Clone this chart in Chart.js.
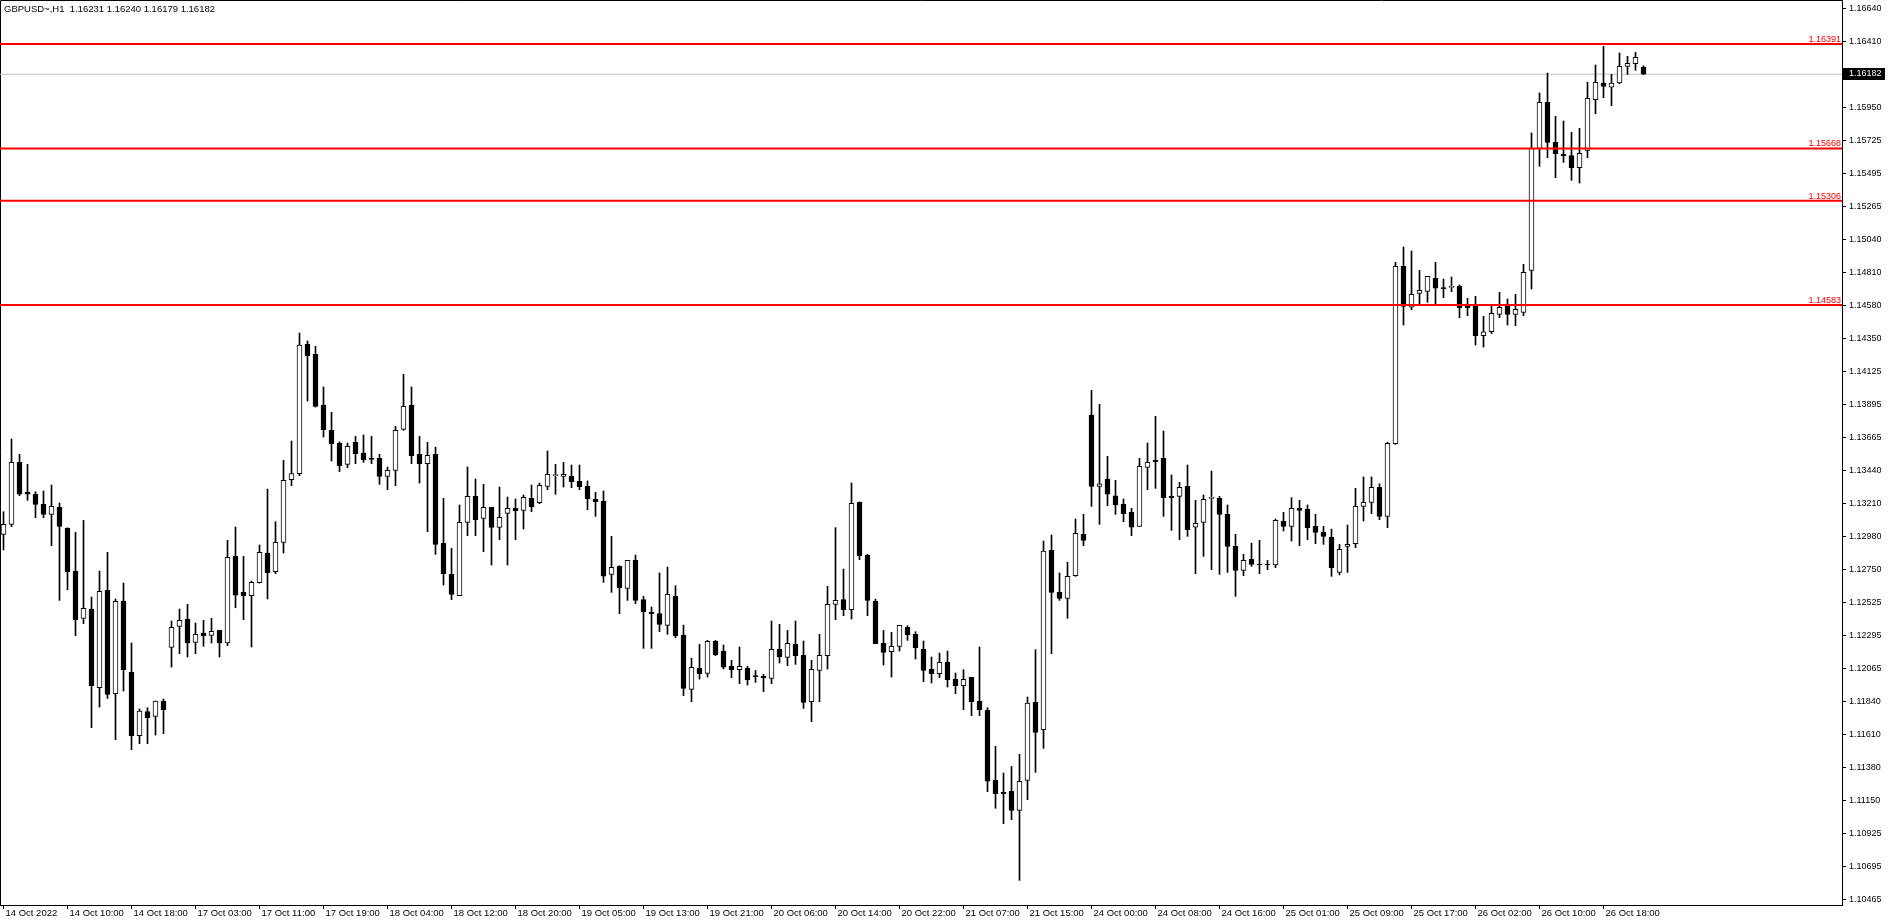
<!DOCTYPE html>
<html>
<head>
<meta charset="utf-8">
<title>GBPUSD~,H1</title>
<script src="https://cdn.jsdelivr.net/npm/chart.js@4.4.0/dist/chart.umd.min.js"></script>
<style>
    html, body { margin: 0; padding: 0; background: #fff; overflow: hidden; }
    canvas { display: block; }
</style>
</head>
<body>
<canvas id="myChart" width="1888" height="923"></canvas>
<script>
const symbol = 'GBPUSD~,H1'

// hourly bars, 14 Oct 2022 .. 26 Oct 2022
const opens = [
    1.12994, 1.13064, 1.13493, 1.13285, 1.13272, 1.13202, 1.13133, 1.13181, 1.13036, 1.12740,
    1.12413, 1.12477, 1.11932, 1.12607, 1.11891, 1.12533, 1.12039, 1.11600, 1.11766, 1.11734,
    1.11840, 1.12212, 1.12357, 1.12408, 1.12246, 1.12311, 1.12295, 1.12329, 1.12242, 1.12842,
    1.12593, 1.12570, 1.12660, 1.12865, 1.12736, 1.12939, 1.13373, 1.13415, 1.14311, 1.14241,
    1.13890, 1.13715, 1.13627, 1.13479, 1.13632, 1.13558, 1.13523, 1.13521, 1.13396, 1.13438,
    1.13722, 1.13888, 1.13549, 1.13484, 1.13549, 1.12932, 1.12717, 1.12570, 1.13078, 1.13258,
    1.13105, 1.13181, 1.13043, 1.13140, 1.13174, 1.13161, 1.13244, 1.13214, 1.13327, 1.13401,
    1.13396, 1.13396, 1.13362, 1.13327, 1.13237, 1.13223, 1.12717, 1.12773, 1.12620, 1.12814,
    1.12542, 1.12454, 1.12445, 1.12364, 1.12565, 1.12297, 1.11921, 1.12066, 1.12032, 1.12253,
    1.12186, 1.12080, 1.12057, 1.12066, 1.12011, 1.12011, 1.11997, 1.12198, 1.12142, 1.12232,
    1.12156, 1.11835, 1.12052, 1.12154, 1.12510, 1.12542, 1.12473, 1.13216, 1.12849, 1.12530,
    1.12239, 1.12182, 1.12219, 1.12350, 1.12302, 1.12198, 1.12059, 1.12029, 1.12110, 1.11990,
    1.11946, 1.12004, 1.11838, 1.11778, 1.11290, 1.11207, 1.11214, 1.11083, 1.11290, 1.11831,
    1.11641, 1.12884, 1.12593, 1.12551, 1.12708, 1.12995, 1.13821, 1.13327, 1.13378, 1.13262,
    1.13202, 1.13147, 1.13050, 1.13459, 1.13507, 1.13521, 1.13258, 1.13258, 1.13327, 1.13045,
    1.13078, 1.13244, 1.13244, 1.13133, 1.12911, 1.12745, 1.12821, 1.12782, 1.12789, 1.12782,
    1.13085, 1.13050, 1.13175, 1.13168, 1.13050, 1.13008, 1.12974, 1.12731, 1.12911, 1.12930,
    1.13188, 1.13216, 1.13320, 1.13119, 1.13623, 1.14851, 1.14569, 1.14664, 1.14678, 1.14768,
    1.14699, 1.14705, 1.14712, 1.14574, 1.14574, 1.14371, 1.14398, 1.14518, 1.14576, 1.14518,
    1.14532, 1.14823, 1.15668, 1.15987, 1.15710, 1.15627, 1.15618, 1.15534, 1.15654, 1.16005,
    1.16121, 1.16093, 1.16121, 1.16236, 1.16255, 1.16231
]
const highs = [
    1.13151, 1.13655, 1.13549, 1.13479, 1.13290, 1.13295, 1.13336, 1.13212, 1.13040, 1.13008,
    1.13091, 1.12560, 1.12740, 1.12870, 1.12547, 1.12657, 1.12242, 1.11785, 1.11794, 1.11840,
    1.11854, 1.12394, 1.12477, 1.12510, 1.12380, 1.12399, 1.12413, 1.12329, 1.12953, 1.13045,
    1.12842, 1.12671, 1.12921, 1.13308, 1.13082, 1.13507, 1.13641, 1.14389, 1.14334, 1.14297,
    1.14015, 1.13840, 1.13635, 1.13627, 1.13673, 1.13683, 1.13673, 1.13549, 1.13461, 1.13743,
    1.14103, 1.14015, 1.13673, 1.13632, 1.13599, 1.13244, 1.12897, 1.13198, 1.13461, 1.13378,
    1.13341, 1.13181, 1.13322, 1.13253, 1.13239, 1.13267, 1.13336, 1.13350, 1.13572, 1.13479,
    1.13493, 1.13475, 1.13475, 1.13364, 1.13285, 1.13295, 1.12981, 1.12777, 1.12814, 1.12851,
    1.12565, 1.12491, 1.12727, 1.12768, 1.12639, 1.12366, 1.12136, 1.12232, 1.12260, 1.12260,
    1.12228, 1.12122, 1.12214, 1.12080, 1.12052, 1.12025, 1.12394, 1.12371, 1.12329, 1.12394,
    1.12256, 1.12122, 1.12302, 1.12634, 1.13041, 1.12754, 1.13350, 1.13220, 1.12856, 1.12546,
    1.12329, 1.12316, 1.12364, 1.12362, 1.12320, 1.12256, 1.12145, 1.12172, 1.12186, 1.12034,
    1.12057, 1.12004, 1.12214, 1.11794, 1.11526, 1.11341, 1.11387, 1.11471, 1.11868, 1.12196,
    1.12948, 1.12990, 1.12727, 1.12801, 1.13101, 1.13133, 1.13992, 1.13895, 1.13535, 1.13369,
    1.13239, 1.13175, 1.13521, 1.13627, 1.13812, 1.13710, 1.13406, 1.13355, 1.13475, 1.13230,
    1.13267, 1.13433, 1.13258, 1.13198, 1.12995, 1.12856, 1.12934, 1.12953, 1.12814, 1.13101,
    1.13147, 1.13249, 1.13230, 1.13198, 1.13133, 1.13050, 1.13031, 1.12925, 1.13059, 1.13313,
    1.13392, 1.13392, 1.13345, 1.13632, 1.14879, 1.14985, 1.14957, 1.14823, 1.14782, 1.14879,
    1.14763, 1.14777, 1.14722, 1.14629, 1.14643, 1.14505, 1.14574, 1.14671, 1.14625, 1.14657,
    1.14865, 1.15775, 1.16052, 1.16190, 1.15890, 1.15858, 1.15779, 1.15807, 1.16126, 1.16246,
    1.16375, 1.16181, 1.16329, 1.16306, 1.16333, 1.16240
]
const lows = [
    1.12886, 1.13048, 1.13262, 1.13230, 1.13110, 1.13110, 1.12916, 1.12537, 1.12611, 1.12293,
    1.12376, 1.11655, 1.11798, 1.11858, 1.11572, 1.11909, 1.11503, 1.11544, 1.11544, 1.11604,
    1.11614, 1.12075, 1.12168, 1.12145, 1.12168, 1.12219, 1.12242, 1.12145, 1.12223, 1.12486,
    1.12403, 1.12214, 1.12657, 1.12547, 1.12722, 1.12865, 1.13332, 1.13401, 1.13918, 1.13876,
    1.13669, 1.13502, 1.13429, 1.13456, 1.13484, 1.13493, 1.13484, 1.13341, 1.13304, 1.13332,
    1.13715, 1.13484, 1.13350, 1.13013, 1.12856, 1.12643, 1.12542, 1.12570, 1.12985, 1.12985,
    1.12874, 1.12782, 1.12958, 1.12782, 1.12958, 1.13031, 1.13151, 1.13207, 1.13304, 1.13272,
    1.13322, 1.13318, 1.13304, 1.13165, 1.13119, 1.12662, 1.12593, 1.12445, 1.12537, 1.12514,
    1.12205, 1.12205, 1.12320, 1.12302, 1.12279, 1.11877, 1.11835, 1.11992, 1.12006, 1.12154,
    1.12062, 1.12002, 1.11960, 1.11951, 1.11969, 1.11905, 1.11960, 1.12103, 1.12085, 1.12094,
    1.11789, 1.11697, 1.11835, 1.12062, 1.12403, 1.12431, 1.12408, 1.12819, 1.12431, 1.12237,
    1.12089, 1.12006, 1.12186, 1.12260, 1.12131, 1.11974, 1.11965, 1.12002, 1.11937, 1.11891,
    1.11780, 1.11738, 1.11738, 1.11212, 1.11097, 1.10990, 1.11018, 1.10598, 1.11157, 1.11346,
    1.11512, 1.12168, 1.12537, 1.12413, 1.12704, 1.12916, 1.13188, 1.13064, 1.13193, 1.13133,
    1.13082, 1.12985, 1.13050, 1.13304, 1.13313, 1.13119, 1.13022, 1.12958, 1.12981, 1.12722,
    1.12842, 1.12750, 1.12717, 1.12731, 1.12565, 1.12708, 1.12773, 1.12722, 1.12750, 1.12764,
    1.13018, 1.12948, 1.12916, 1.12958, 1.12930, 1.12925, 1.12704, 1.12713, 1.12731, 1.12902,
    1.13087, 1.13138, 1.13096, 1.13041, 1.13618, 1.14445, 1.14551, 1.14583, 1.14602, 1.14583,
    1.14634, 1.14675, 1.14495, 1.14509, 1.14306, 1.14292, 1.14385, 1.14495, 1.14445, 1.14440,
    1.14509, 1.14694, 1.15544, 1.15604, 1.15465, 1.15571, 1.15447, 1.15428, 1.15604, 1.15908,
    1.16019, 1.15964, 1.16116, 1.16181, 1.16209, 1.16179
]
const closes = [
    1.13064, 1.13493, 1.13272, 1.13272, 1.13202, 1.13133, 1.13188, 1.13050, 1.12736, 1.12403,
    1.12482, 1.11946, 1.12600, 1.11886, 1.12530, 1.12057, 1.11600, 1.11771, 1.11725, 1.11840,
    1.11780, 1.12350, 1.12399, 1.12242, 1.12302, 1.12293, 1.12322, 1.12242, 1.12835, 1.12574,
    1.12570, 1.12662, 1.12870, 1.12729, 1.12939, 1.13369, 1.13415, 1.14306, 1.14232, 1.13881,
    1.13719, 1.13622, 1.13470, 1.13604, 1.13553, 1.13512, 1.13514, 1.13396, 1.13438, 1.13715,
    1.13881, 1.13539, 1.13484, 1.13542, 1.12925, 1.12722, 1.12579, 1.13078, 1.13258, 1.13096,
    1.13181, 1.13043, 1.13112, 1.13174, 1.13158, 1.13251, 1.13186, 1.13334, 1.13410, 1.13405,
    1.13410, 1.13359, 1.13325, 1.13242, 1.13221, 1.12704, 1.12766, 1.12625, 1.12814, 1.12537,
    1.12459, 1.12445, 1.12371, 1.12579, 1.12293, 1.11928, 1.12073, 1.12029, 1.12253, 1.12161,
    1.12075, 1.12057, 1.12080, 1.11988, 1.12009, 1.12002, 1.12198, 1.12147, 1.12239, 1.12154,
    1.11831, 1.12059, 1.12156, 1.12510, 1.12537, 1.12473, 1.13209, 1.12847, 1.12537, 1.12237,
    1.12177, 1.12219, 1.12364, 1.12299, 1.12209, 1.12052, 1.12029, 1.12108, 1.11988, 1.11946,
    1.11990, 1.11835, 1.11780, 1.11285, 1.11198, 1.11198, 1.11083, 1.11284, 1.11826, 1.11623,
    1.12879, 1.12593, 1.12551, 1.12704, 1.13001, 1.12953, 1.13327, 1.13345, 1.13272, 1.13198,
    1.13138, 1.13045, 1.13466, 1.13493, 1.13498, 1.13249, 1.13249, 1.13320, 1.13027, 1.13071,
    1.13237, 1.13251, 1.13133, 1.12911, 1.12745, 1.12814, 1.12787, 1.12782, 1.12782, 1.13091,
    1.13050, 1.13175, 1.13161, 1.13041, 1.13008, 1.12981, 1.12764, 1.12891, 1.12925, 1.13188,
    1.13216, 1.13320, 1.13119, 1.13625, 1.14851, 1.14574, 1.14657, 1.14685, 1.14782, 1.14699,
    1.14697, 1.14707, 1.14565, 1.14565, 1.14371, 1.14398, 1.14525, 1.14567, 1.14518, 1.14553,
    1.14809, 1.15668, 1.15987, 1.15710, 1.15631, 1.15618, 1.15534, 1.15634, 1.16015, 1.16126,
    1.16098, 1.16121, 1.16236, 1.16257, 1.16299, 1.16182
]

// time axis: one label every 8 bars
const timeLabels = [
    '14 Oct 2022', '14 Oct 10:00', '14 Oct 18:00', '17 Oct 03:00', '17 Oct 11:00', '17 Oct 19:00',
    '18 Oct 04:00', '18 Oct 12:00', '18 Oct 20:00', '19 Oct 05:00', '19 Oct 13:00', '19 Oct 21:00',
    '20 Oct 06:00', '20 Oct 14:00', '20 Oct 22:00', '21 Oct 07:00', '21 Oct 15:00', '24 Oct 00:00',
    '24 Oct 08:00', '24 Oct 16:00', '25 Oct 01:00', '25 Oct 09:00', '25 Oct 17:00', '26 Oct 02:00',
    '26 Oct 10:00', '26 Oct 18:00'
]
const labelStep = 8

const priceTicks = [
    1.16640, 1.16410, 1.16180, 1.15950, 1.15725, 1.15495, 1.15265, 1.15040, 1.14810, 1.14580,
    1.14350, 1.14125, 1.13895, 1.13665, 1.13440, 1.13210, 1.12980, 1.12750, 1.12525, 1.12295,
    1.12065, 1.11840, 1.11610, 1.11380, 1.11150, 1.10925, 1.10695, 1.10465
]

// red horizontal levels
const levels = [1.16391, 1.15668, 1.15306, 1.14583]

const last = closes.length - 1
const lastPrice = closes[last]

const xMin = -0.4375
const xMax = 229.8125
const yMin = 1.10427
const yMax = 1.16696

Chart.defaults.font.family = '"Liberation Sans", Arial, sans-serif'
Chart.defaults.color = '#000'

const mt4Decor = {
    id: 'mt4Decor',
    beforeDatasetsDraw(chart) {
        const {ctx, chartArea: a} = chart
        ctx.save()
        ctx.strokeStyle = '#000'
        ctx.lineWidth = 1
        ctx.beginPath()
        ctx.moveTo(a.left + 0.5, a.bottom)
        ctx.lineTo(a.left + 0.5, a.top + 0.5)
        ctx.lineTo(a.right, a.top + 0.5)
        ctx.stroke()
        ctx.restore()
    },
    afterDraw(chart) {
        const {ctx, chartArea: a, scales: {y}} = chart
        ctx.save()
        ctx.font = '9.5px "Liberation Sans"'
        ctx.fillStyle = '#000'
        ctx.textBaseline = 'middle'
        const ohlc = [opens[last], highs[last], lows[last], closes[last]].map(v => v.toFixed(5)).join(' ')
        ctx.fillText(symbol + '  ' + ohlc, a.left + 4, a.top + 9)

        ctx.font = '9px "Liberation Sans"'
        ctx.fillStyle = '#ff0000'
        ctx.textAlign = 'right'
        ctx.textBaseline = 'alphabetic'
        levels.forEach(v => {
            ctx.fillText(v.toFixed(5), a.right - 1, y.getPixelForValue(v) - 2)
        })

        const py = Math.round(y.getPixelForValue(lastPrice))
        ctx.fillStyle = '#000'
        ctx.fillRect(a.right + 1, py - 6, 42, 12)
        ctx.fillStyle = '#fff'
        ctx.textAlign = 'left'
        ctx.textBaseline = 'middle'
        ctx.fillText(lastPrice.toFixed(5), a.right + 7, py)
        ctx.restore()
    }
}

const wickData = opens.map((o, i) => ({x: i, y: [lows[i], highs[i]]}))
const bodyData = opens.map((o, i) => ({x: i, y: [o, closes[i]]}))
const bodyColors = opens.map((o, i) => closes[i] > o ? '#ffffff' : '#000000')

const hLine = (v, color, width, order) => ({
    type: 'line',
    data: [{x: xMin, y: v}, {x: xMax, y: v}],
    borderColor: color,
    borderWidth: width,
    pointRadius: 0,
    order: order
})

const noPadding = s => {
    s.paddingTop = 0
    s.paddingBottom = 0
    s.paddingLeft = 0
    s.paddingRight = 0
}

const config = {
    type: 'bar',
    data: {
        datasets: [
            {
                label: 'wick',
                data: wickData,
                backgroundColor: '#000',
                borderWidth: 0,
                barThickness: 1,
                grouped: false,
                order: 2
            },
            {
                label: 'body',
                data: bodyData,
                backgroundColor: bodyColors,
                borderColor: '#000',
                borderWidth: 1,
                borderSkipped: false,
                barThickness: 5,
                minBarLength: 1,
                grouped: false,
                order: 1
            },
            hLine(lastPrice, '#c0c0c0', 1, 3),
            ...levels.map(v => hLine(v, '#ff0000', 2, 0))
        ]
    },
    options: {
        responsive: false,
        animation: false,
        devicePixelRatio: 1,
        layout: {padding: 0},
        plugins: {
            legend: {display: false},
            tooltip: {enabled: false}
        },
        scales: {
            x: {
                type: 'linear',
                min: xMin,
                max: xMax,
                offset: false,
                grid: {drawOnChartArea: false, offset: false, color: '#000', tickLength: 4},
                border: {color: '#000'},
                ticks: {
                    autoSkip: false,
                    maxRotation: 0,
                    align: 'start',
                    labelOffset: 2,
                    padding: -1,
                    color: '#000',
                    font: {size: 9.5},
                    callback: v => timeLabels[v / labelStep]
                },
                afterBuildTicks: s => { s.ticks = timeLabels.map((t, k) => ({value: k * labelStep})) },
                afterFit: s => {
                    s.height = 18
                    noPadding(s)
                }
            },
            y: {
                type: 'linear',
                position: 'right',
                min: yMin,
                max: yMax,
                grid: {drawOnChartArea: false, color: '#000', tickLength: 4},
                border: {color: '#000'},
                ticks: {
                    padding: 3,
                    color: '#000',
                    font: {size: 9},
                    callback: v => v.toFixed(5)
                },
                afterBuildTicks: s => { s.ticks = priceTicks.map(v => ({value: v})) },
                afterFit: s => {
                    s.width = 46
                    noPadding(s)
                }
            }
        }
    },
    plugins: [mt4Decor]
}

let myChart = new Chart(document.getElementById('myChart'), config)
</script>
</body>
</html>
